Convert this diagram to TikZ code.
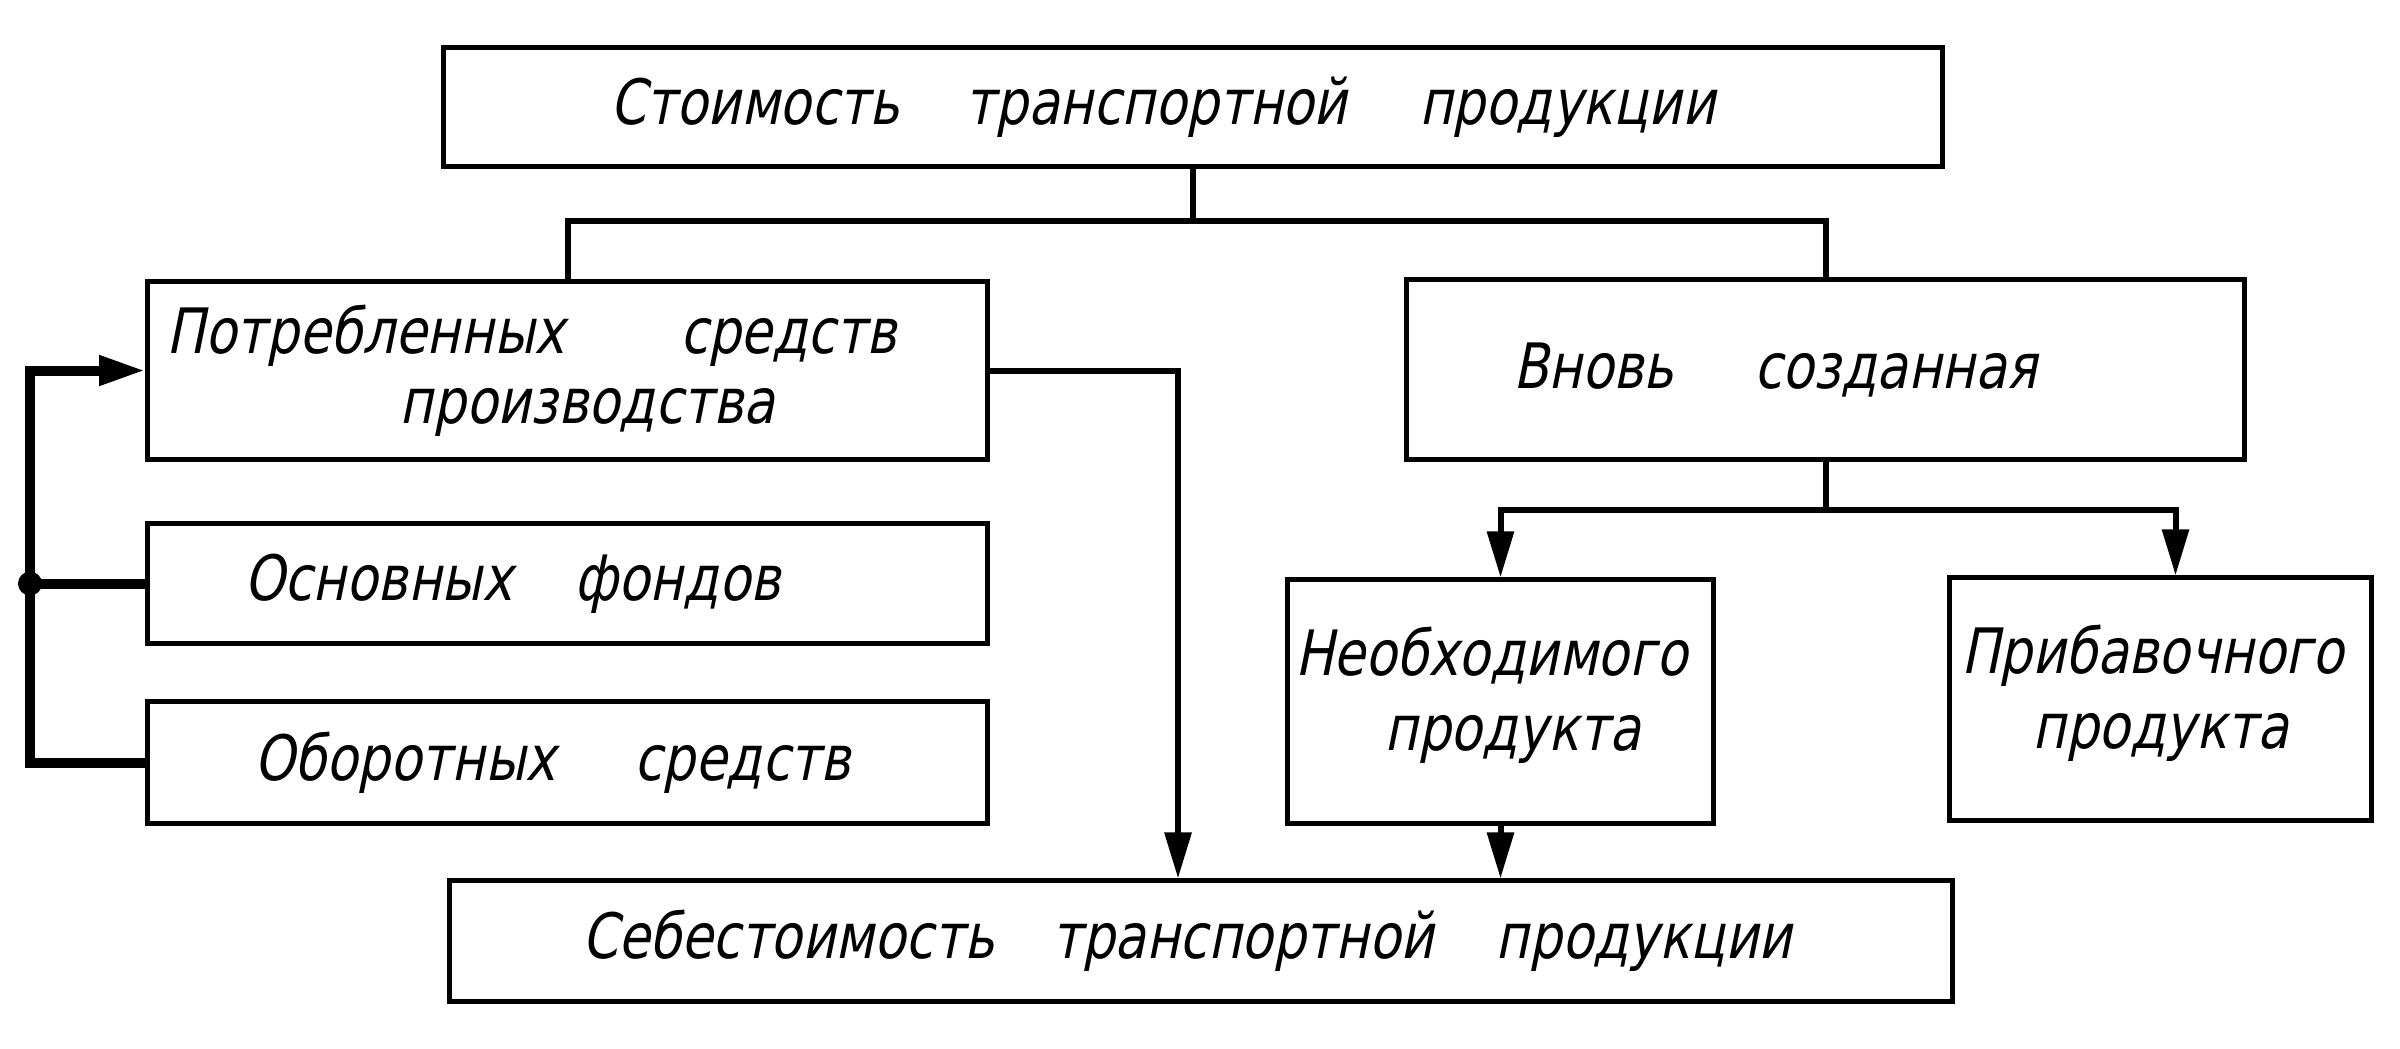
\documentclass[tikz,border=0pt]{standalone}
\usepackage{fontspec}
\newfontfamily\gost[FakeSlant=0.2,FakeStretch=0.82]{DejaVu Sans}
\usetikzlibrary{arrows.meta}
\begin{document}
\begin{tikzpicture}[x=0.01cm,y=-0.01cm,
  box/.style={draw,line width=0.05cm,inner sep=0pt,align=center,
    font=\gost\fontsize{17.8pt}{20pt}\selectfont},
  link/.style={line width=0.06cm},
  arr/.style={link,-{Triangle[length=0.46cm,width=0.26cm]}},
  heavy/.style={line width=0.1cm,-{Triangle[length=0.46cm,width=0.28cm]}}]
\useasboundingbox (0,0) rectangle (2400,1048);
\fill[white] (0,0) rectangle (2400,1048);
% boxes
\node[box,minimum width=14.98cm,minimum height=1.18cm] (top) at (1193,107)
  {Стоимость\hspace{0.66cm}транспортной\hspace{0.72cm}продукции\hspace*{0.60cm}};
\node[box,minimum width=8.39cm,minimum height=1.77cm] (potr) at (567.5,370.5)
  {Потребленных\hspace{1.15cm}средств\hspace*{0.72cm}\\\hspace*{0.40cm}производства};
\node[box,minimum width=8.39cm,minimum height=1.19cm] (osn) at (567.5,583.5)
  {Основных\hspace{0.62cm}фондов\hspace*{1.10cm}};
\node[box,minimum width=8.39cm,minimum height=1.21cm] (obor) at (567.5,762.5)
  {Оборотных\hspace{0.78cm}средств\hspace*{0.30cm}};
\node[box,minimum width=8.37cm,minimum height=1.79cm] (vnov) at (1825.5,369.5)
  {Вновь\hspace{0.80cm}созданная\hspace*{1.00cm}};
\node[box,minimum width=4.25cm,minimum height=2.43cm] (neob) at (1500.5,701.5)
  {Необходимого\hspace*{0.18cm}\\[0.05cm]\hspace*{0.24cm}продукта\\[-0.45cm]\mbox{}};
\node[box,minimum width=4.21cm,minimum height=2.42cm] (prib) at (2160.5,699)
  {Прибавочного\hspace*{0.16cm}\\[0.05cm]продукта\\[-0.45cm]\mbox{}};
\node[box,minimum width=15.02cm,minimum height=1.20cm] (seb) at (1201,941)
  {Себестоимость\hspace{0.58cm}транспортной\hspace{0.62cm}продукции\hspace*{0.28cm}};
% connectors
\coordinate (br) at (1193,221);
\draw[link] (top.south) -- (br);
\draw[link] (potr.north) |- (br) -| (vnov.north);
\coordinate (b2) at (1825.5,510);
\draw[link] (vnov.south) -- (b2);
\draw[arr] (b2) -| (neob.north);
\draw[arr] (b2) -| ([xshift=0.15cm]prib.north);
\coordinate (c1) at (1178,370.5);
\draw[arr] (potr.east) -- (c1) -- (c1 |- seb.north);
\draw[arr] (neob.south) -- (neob.south |- seb.north);
\coordinate (jn) at (30,583.5);
\draw[heavy] (obor.west) -| (jn) |- (potr.west);
\draw[line width=0.1cm] (osn.west) -- (jn);
\fill (jn) circle (0.12cm);
\end{tikzpicture}
\end{document}
